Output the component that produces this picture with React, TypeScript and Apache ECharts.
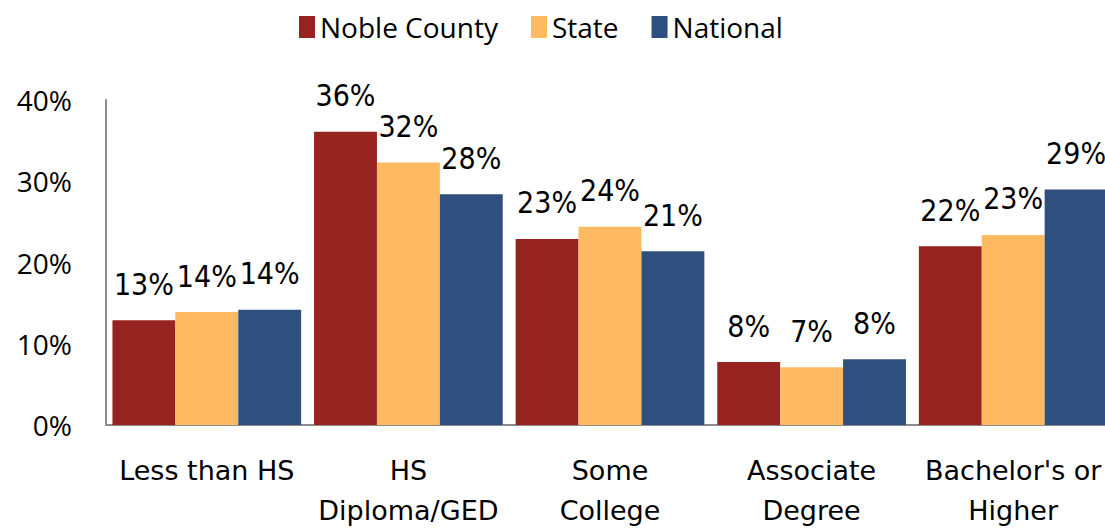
import React, { useEffect, useRef } from "react";
import * as echarts from "echarts";

const categories = ["Less than HS", "HS\nDiploma/GED", "Some\nCollege", "Associate\nDegree", "Bachelor's or\nHigher"];
const nobleCounty = [12.9, 36.1, 22.9, 7.75, 22.0];
const state = [13.9, 32.3, 24.4, 7.1, 23.4];
const national = [14.2, 28.4, 21.4, 8.1, 29.0];
const seriesNames = ["Noble County", "State", "National"];
const colors = ["#972321", "#FDBA60", "#2F507E"];
const yTicks = [0, 10, 20, 30, 40];

export default function App() {
  const ref = useRef<HTMLDivElement>(null);
  useEffect(() => {
    if (!ref.current) return;
    const chart = echarts.init(ref.current, null, { renderer: "svg" });
    const uiFont = "'Open Sans', 'Noto Sans', sans-serif";
    const xFont = "'DejaVu Sans', sans-serif";
    const labelFont = "'DejaVu Sans Condensed', sans-serif";
    const data = [nobleCounty, state, national];
    chart.setOption({
      animation: false,
      backgroundColor: "#ffffff",
      legend: {
        top: 8,
        left: 294,
        itemWidth: 16,
        itemHeight: 22,
        itemGap: 33,
        icon: "rect",
        textStyle: { fontFamily: uiFont, fontSize: 28, color: "#000" },
        data: seriesNames,
      },
      grid: { left: 106, right: 0, top: 100, bottom: 102.5, containLabel: false },
      xAxis: {
        type: "category",
        data: categories,
        axisLine: { show: true, lineStyle: { color: "#8c8c8c", width: 2 } },
        axisTick: { show: false },
        axisLabel: {
          fontFamily: xFont,
          fontSize: 27,
          color: "#000",
          margin: 25,
          lineHeight: 40,
          interval: 0,
        },
      },
      yAxis: {
        type: "value",
        min: yTicks[0],
        max: yTicks[yTicks.length - 1],
        interval: 10,
        splitLine: { show: false },
        axisLine: { show: true, lineStyle: { color: "#8c8c8c", width: 2 } },
        axisTick: { show: false },
        axisLabel: {
          fontFamily: uiFont,
          fontSize: 28,
          color: "#000",
          margin: 34,
          formatter: (v: number) => v + "%",
        },
      },
      series: seriesNames.map((name, i) => ({
        name,
        type: "bar",
        data: data[i],
        barGap: "0%",
        barCategoryGap: "6.4%",
        itemStyle: { color: colors[i] },
        label: {
          show: true,
          position: "top",
          distance: 21,
          fontFamily: labelFont,
          fontSize: 30,
          color: "#000",
          formatter: (p: any) => Math.round(p.value) + "%",
        },
      })),
    });
    return () => chart.dispose();
  }, []);
  return (
    <div
      style={{ position: "fixed", left: 0, top: 0, width: 1105, height: 530, overflow: "hidden", background: "#fff" }}
    >
      <div ref={ref} style={{ width: 1114, height: 530 }} />
    </div>
  );
}
